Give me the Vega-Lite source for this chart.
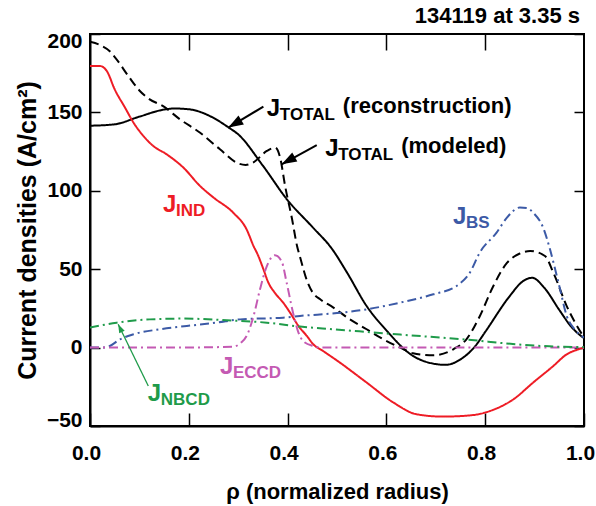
{
  "$schema": "https://vega.github.io/schema/vega-lite/v6.json",
  "width": 494,
  "height": 392,
  "autosize": {"type": "none"},
  "padding": {"left": 90, "top": 34, "right": 12, "bottom": 80},
  "title": {"text": "134119 at 3.35 s", "anchor": "end", "frame": "group", "orient": "top", "fontSize": 22, "fontWeight": "bold", "font": "Liberation Sans", "offset": 2, "dx": -4, "color": "black"},
  "config": {
    "view": {"stroke": "black", "strokeWidth": 2},
    "font": "Liberation Sans",
    "axis": {"grid": false, "tickColor": "black", "domainColor": "black", "domainWidth": 2, "tickWidth": 1.5, "labelColor": "black", "titleColor": "black"}
  },
  "datasets": {
    "curves": [
      {"s": "TR", "rho": 0.0, "J": 141.5}, {"s": "TR", "rho": 0.05, "J": 142.4}, {"s": "TR", "rho": 0.1, "J": 147.3}, {"s": "TR", "rho": 0.15, "J": 151.8}, {"s": "TR", "rho": 0.17, "J": 152.5}, {"s": "TR", "rho": 0.2, "J": 152}, {"s": "TR", "rho": 0.25, "J": 146.5}, {"s": "TR", "rho": 0.28, "J": 140.5}, {"s": "TR", "rho": 0.3, "J": 136}, {"s": "TR", "rho": 0.35, "J": 116}, {"s": "TR", "rho": 0.4, "J": 94}, {"s": "TR", "rho": 0.45, "J": 77}, {"s": "TR", "rho": 0.49, "J": 62.9}, {"s": "TR", "rho": 0.52, "J": 48}, {"s": "TR", "rho": 0.56, "J": 26.5}, {"s": "TR", "rho": 0.6, "J": 11}, {"s": "TR", "rho": 0.65, "J": -4.5}, {"s": "TR", "rho": 0.7, "J": -10.5}, {"s": "TR", "rho": 0.72, "J": -11}, {"s": "TR", "rho": 0.75, "J": -7.5}, {"s": "TR", "rho": 0.78, "J": 1}, {"s": "TR", "rho": 0.8, "J": 10}, {"s": "TR", "rho": 0.85, "J": 33}, {"s": "TR", "rho": 0.875, "J": 42}, {"s": "TR", "rho": 0.895, "J": 44.5}, {"s": "TR", "rho": 0.92, "J": 38}, {"s": "TR", "rho": 0.95, "J": 24}, {"s": "TR", "rho": 0.975, "J": 13}, {"s": "TR", "rho": 1.0, "J": 6},
      {"s": "TM", "rho": 0.0, "J": 195}, {"s": "TM", "rho": 0.02, "J": 193}, {"s": "TM", "rho": 0.04, "J": 189}, {"s": "TM", "rho": 0.051, "J": 185}, {"s": "TM", "rho": 0.078, "J": 173}, {"s": "TM", "rho": 0.1, "J": 164}, {"s": "TM", "rho": 0.12, "J": 158.5}, {"s": "TM", "rho": 0.148, "J": 154}, {"s": "TM", "rho": 0.182, "J": 145.6}, {"s": "TM", "rho": 0.223, "J": 137}, {"s": "TM", "rho": 0.263, "J": 126.5}, {"s": "TM", "rho": 0.3, "J": 117.5}, {"s": "TM", "rho": 0.315, "J": 116.5}, {"s": "TM", "rho": 0.33, "J": 118}, {"s": "TM", "rho": 0.358, "J": 125.4}, {"s": "TM", "rho": 0.375, "J": 127.5}, {"s": "TM", "rho": 0.385, "J": 121}, {"s": "TM", "rho": 0.395, "J": 103}, {"s": "TM", "rho": 0.409, "J": 82}, {"s": "TM", "rho": 0.419, "J": 65}, {"s": "TM", "rho": 0.425, "J": 58}, {"s": "TM", "rho": 0.44, "J": 42}, {"s": "TM", "rho": 0.451, "J": 35}, {"s": "TM", "rho": 0.466, "J": 30.8}, {"s": "TM", "rho": 0.492, "J": 25.7}, {"s": "TM", "rho": 0.526, "J": 18}, {"s": "TM", "rho": 0.56, "J": 11.7}, {"s": "TM", "rho": 0.594, "J": 5.3}, {"s": "TM", "rho": 0.628, "J": 0}, {"s": "TM", "rho": 0.654, "J": -3.6}, {"s": "TM", "rho": 0.695, "J": -4.9}, {"s": "TM", "rho": 0.736, "J": -1}, {"s": "TM", "rho": 0.762, "J": 5.3}, {"s": "TM", "rho": 0.789, "J": 20}, {"s": "TM", "rho": 0.816, "J": 39}, {"s": "TM", "rho": 0.844, "J": 54}, {"s": "TM", "rho": 0.87, "J": 60}, {"s": "TM", "rho": 0.891, "J": 61.6}, {"s": "TM", "rho": 0.921, "J": 58.4}, {"s": "TM", "rho": 0.938, "J": 47.8}, {"s": "TM", "rho": 0.965, "J": 26.5}, {"s": "TM", "rho": 1.0, "J": 6.4},
      {"s": "IND", "rho": 0.0, "J": 179.6}, {"s": "IND", "rho": 0.02, "J": 179.6}, {"s": "IND", "rho": 0.034, "J": 176.4}, {"s": "IND", "rho": 0.05, "J": 164.7}, {"s": "IND", "rho": 0.071, "J": 153}, {"s": "IND", "rho": 0.088, "J": 143.5}, {"s": "IND", "rho": 0.108, "J": 135}, {"s": "IND", "rho": 0.128, "J": 128.6}, {"s": "IND", "rho": 0.155, "J": 123.3}, {"s": "IND", "rho": 0.189, "J": 114.8}, {"s": "IND", "rho": 0.223, "J": 103}, {"s": "IND", "rho": 0.25, "J": 95.7}, {"s": "IND", "rho": 0.29, "J": 86}, {"s": "IND", "rho": 0.317, "J": 75.4}, {"s": "IND", "rho": 0.331, "J": 64.8}, {"s": "IND", "rho": 0.34, "J": 59}, {"s": "IND", "rho": 0.351, "J": 50}, {"s": "IND", "rho": 0.361, "J": 41.5}, {"s": "IND", "rho": 0.374, "J": 35}, {"s": "IND", "rho": 0.391, "J": 28.7}, {"s": "IND", "rho": 0.405, "J": 22.3}, {"s": "IND", "rho": 0.422, "J": 13.8}, {"s": "IND", "rho": 0.439, "J": 7.4}, {"s": "IND", "rho": 0.452, "J": 2.1}, {"s": "IND", "rho": 0.472, "J": -2.2}, {"s": "IND", "rho": 0.506, "J": -9.6}, {"s": "IND", "rho": 0.56, "J": -22.3}, {"s": "IND", "rho": 0.614, "J": -35}, {"s": "IND", "rho": 0.661, "J": -42.5}, {"s": "IND", "rho": 0.715, "J": -44}, {"s": "IND", "rho": 0.776, "J": -43}, {"s": "IND", "rho": 0.81, "J": -40.4}, {"s": "IND", "rho": 0.857, "J": -33}, {"s": "IND", "rho": 0.897, "J": -22.3}, {"s": "IND", "rho": 0.938, "J": -11.7}, {"s": "IND", "rho": 0.965, "J": -4.3}, {"s": "IND", "rho": 0.985, "J": -1.5}, {"s": "IND", "rho": 1.0, "J": 0},
      {"s": "BS", "rho": 0.0, "J": 0}, {"s": "BS", "rho": 0.03, "J": 0}, {"s": "BS", "rho": 0.04, "J": 1}, {"s": "BS", "rho": 0.061, "J": 5.3}, {"s": "BS", "rho": 0.088, "J": 8.5}, {"s": "BS", "rho": 0.142, "J": 11.7}, {"s": "BS", "rho": 0.196, "J": 13.8}, {"s": "BS", "rho": 0.256, "J": 15.9}, {"s": "BS", "rho": 0.304, "J": 18}, {"s": "BS", "rho": 0.391, "J": 19.1}, {"s": "BS", "rho": 0.425, "J": 20.2}, {"s": "BS", "rho": 0.5, "J": 22}, {"s": "BS", "rho": 0.56, "J": 24.4}, {"s": "BS", "rho": 0.628, "J": 28.7}, {"s": "BS", "rho": 0.695, "J": 34}, {"s": "BS", "rho": 0.742, "J": 39.3}, {"s": "BS", "rho": 0.769, "J": 47.8}, {"s": "BS", "rho": 0.789, "J": 60.6}, {"s": "BS", "rho": 0.823, "J": 73.3}, {"s": "BS", "rho": 0.844, "J": 82.9}, {"s": "BS", "rho": 0.87, "J": 89.3}, {"s": "BS", "rho": 0.885, "J": 89}, {"s": "BS", "rho": 0.897, "J": 86.1}, {"s": "BS", "rho": 0.918, "J": 76}, {"s": "BS", "rho": 0.93, "J": 64}, {"s": "BS", "rho": 0.94, "J": 52}, {"s": "BS", "rho": 0.951, "J": 38}, {"s": "BS", "rho": 0.965, "J": 20.2}, {"s": "BS", "rho": 0.98, "J": 12}, {"s": "BS", "rho": 1.0, "J": 6.4},
      {"s": "ECCD", "rho": 0.0, "J": 0}, {"s": "ECCD", "rho": 0.15, "J": 0}, {"s": "ECCD", "rho": 0.29, "J": 0.5}, {"s": "ECCD", "rho": 0.305, "J": 3}, {"s": "ECCD", "rho": 0.317, "J": 7.4}, {"s": "ECCD", "rho": 0.331, "J": 20}, {"s": "ECCD", "rho": 0.344, "J": 37}, {"s": "ECCD", "rho": 0.358, "J": 52}, {"s": "ECCD", "rho": 0.374, "J": 58.9}, {"s": "ECCD", "rho": 0.388, "J": 55}, {"s": "ECCD", "rho": 0.398, "J": 41.5}, {"s": "ECCD", "rho": 0.411, "J": 22.3}, {"s": "ECCD", "rho": 0.422, "J": 9.6}, {"s": "ECCD", "rho": 0.432, "J": 4}, {"s": "ECCD", "rho": 0.452, "J": 1}, {"s": "ECCD", "rho": 0.47, "J": 0}, {"s": "ECCD", "rho": 0.75, "J": 0}, {"s": "ECCD", "rho": 1.0, "J": 0},
      {"s": "NBCD", "rho": 0.0, "J": 12.8}, {"s": "NBCD", "rho": 0.054, "J": 15.9}, {"s": "NBCD", "rho": 0.121, "J": 18}, {"s": "NBCD", "rho": 0.189, "J": 18.5}, {"s": "NBCD", "rho": 0.277, "J": 17.4}, {"s": "NBCD", "rho": 0.358, "J": 15.9}, {"s": "NBCD", "rho": 0.425, "J": 13.4}, {"s": "NBCD", "rho": 0.493, "J": 11.7}, {"s": "NBCD", "rho": 0.628, "J": 8.3}, {"s": "NBCD", "rho": 0.762, "J": 5.1}, {"s": "NBCD", "rho": 0.864, "J": 2.1}, {"s": "NBCD", "rho": 0.93, "J": 0.8}, {"s": "NBCD", "rho": 1.0, "J": 0.3}
    ],
    "labels": [
      {"s": "TR", "rho": 0.358, "J": 147.5, "main": "J", "sub": "TOTAL", "tail": "(reconstruction)"},
      {"s": "TM", "rho": 0.476, "J": 122.0, "main": "J", "sub": "TOTAL", "tail": "(modeled)"},
      {"s": "IND", "rho": 0.148, "J": 86.3, "main": "J", "sub": "IND", "tail": ""},
      {"s": "BS", "rho": 0.735, "J": 78.6, "main": "J", "sub": "BS", "tail": ""},
      {"s": "ECCD", "rho": 0.263, "J": -17.0, "main": "J", "sub": "ECCD", "tail": ""},
      {"s": "NBCD", "rho": 0.117, "J": -34.3, "main": "J", "sub": "NBCD", "tail": ""}
    ],
    "arrows": [
      {"id": "a1", "s": "TR", "rho": 0.351, "J": 153.7, "rho2": 0.28, "J2": 140.3},
      {"id": "a2", "s": "TM", "rho": 0.459, "J": 129.2, "rho2": 0.388, "J2": 116.9},
      {"id": "a3", "s": "NBCD", "rho": 0.118, "J": -24.5, "rho2": 0.057, "J2": 14.9}
    ]
  },
  "layer": [
    {
      "data": {"name": "curves"},
      "mark": {"type": "line", "interpolate": "monotone", "strokeWidth": 2, "clip": true},
      "encoding": {
        "x": {"field": "rho", "type": "quantitative", "scale": {"domain": [0, 1], "nice": false, "zero": false},
          "axis": {"orient": "bottom", "values": [0, 0.2, 0.4, 0.6, 0.8, 1.0], "format": ".1f", "tickSize": -13, "labelFontSize": 21, "labelFontWeight": "bold", "labelPadding": 29, "labelOffset": -4, "labelFlush": false, "title": "ρ (normalized radius)", "titleFontSize": 22, "titleFontWeight": "bold", "titlePadding": 18}},
        "y": {"field": "J", "type": "quantitative", "scale": {"domain": [-50, 200], "nice": false, "zero": false},
          "axis": {"orient": "left", "values": [-50, 0, 50, 100, 150, 200], "tickSize": -10, "labelFontSize": 21, "labelFontWeight": "bold", "labelPadding": 18, "labelFlush": true, "labelFlushOffset": 4, "title": "Current densities (A/cm²)", "titleFontSize": 25, "titleFontWeight": "bold", "titlePadding": 6}},
        "color": {"field": "s", "type": "nominal", "legend": null,
          "scale": {"domain": ["TR", "TM", "IND", "BS", "ECCD", "NBCD"], "range": ["#000000", "#000000", "#ee1c25", "#3c5aa6", "#c45ab3", "#1f9b4a"]}},
        "strokeDash": {"field": "s", "type": "nominal", "legend": null,
          "scale": {"domain": ["TR", "TM", "IND", "BS", "ECCD", "NBCD"], "range": [[1, 0], [9, 5], [1, 0], [9, 4, 2, 4], [9, 4, 2, 4], [9, 4, 2, 4]]}},
        "detail": {"field": "s"}
      }
    },
    {
      "data": {"name": "labels"},
      "mark": {"type": "text", "align": "left", "baseline": "alphabetic", "fontSize": 24, "fontWeight": "bold"},
      "encoding": {
        "x": {"field": "rho", "type": "quantitative", "axis": {"orient": "top", "values": [0.2, 0.4, 0.6, 0.8], "labels": false, "tickSize": -16, "domain": false, "title": null}},
        "y": {"field": "J", "type": "quantitative", "axis": {"orient": "right", "values": [-50, 0, 50, 100, 150, 200], "labels": false, "tickSize": -10, "domain": false, "title": null}},
        "text": {"field": "main"},
        "color": {"field": "s", "type": "nominal", "legend": null}
      }
    },
    {
      "data": {"name": "labels"},
      "mark": {"type": "text", "align": "left", "baseline": "alphabetic", "fontSize": 17, "fontWeight": "bold", "dx": 13, "dy": 4},
      "encoding": {
        "x": {"field": "rho", "type": "quantitative", "axis": null},
        "y": {"field": "J", "type": "quantitative", "axis": null},
        "text": {"field": "sub"},
        "color": {"field": "s", "type": "nominal", "legend": null}
      }
    },
    {
      "data": {"name": "labels"},
      "mark": {"type": "text", "align": "left", "baseline": "alphabetic", "fontSize": 22, "fontWeight": "bold", "dx": 76, "dy": -3},
      "encoding": {
        "x": {"field": "rho", "type": "quantitative", "axis": null},
        "y": {"field": "J", "type": "quantitative", "axis": null},
        "text": {"field": "tail"},
        "color": {"field": "s", "type": "nominal", "legend": null}
      }
    },
    {
      "data": {"name": "arrows"},
      "transform": [{"filter": "datum.id !== 'a3'"}],
      "mark": {"type": "rule", "strokeWidth": 2},
      "encoding": {
        "x": {"field": "rho", "type": "quantitative", "axis": null},
        "y": {"field": "J", "type": "quantitative", "axis": null},
        "x2": {"field": "rho2"},
        "y2": {"field": "J2"},
        "color": {"field": "s", "type": "nominal", "legend": null}
      }
    },
    {
      "data": {"name": "arrows"},
      "transform": [{"filter": "datum.id === 'a3'"}],
      "mark": {"type": "rule", "strokeWidth": 1.3},
      "encoding": {
        "x": {"field": "rho", "type": "quantitative", "axis": null},
        "y": {"field": "J", "type": "quantitative", "axis": null},
        "x2": {"field": "rho2"},
        "y2": {"field": "J2"},
        "color": {"field": "s", "type": "nominal", "legend": null}
      }
    },
    {
      "data": {"name": "arrows"},
      "transform": [{"filter": "datum.id === 'a1'"}],
      "mark": {"type": "point", "shape": "M0,0L-0.35,1L0.35,1Z", "filled": true, "opacity": 1, "size": 900, "angle": 239},
      "encoding": {
        "x": {"field": "rho2", "type": "quantitative", "axis": null},
        "y": {"field": "J2", "type": "quantitative", "axis": null},
        "color": {"field": "s", "type": "nominal", "legend": null}
      }
    },
    {
      "data": {"name": "arrows"},
      "transform": [{"filter": "datum.id === 'a2'"}],
      "mark": {"type": "point", "shape": "M0,0L-0.35,1L0.35,1Z", "filled": true, "opacity": 1, "size": 900, "angle": 241},
      "encoding": {
        "x": {"field": "rho2", "type": "quantitative", "axis": null},
        "y": {"field": "J2", "type": "quantitative", "axis": null},
        "color": {"field": "s", "type": "nominal", "legend": null}
      }
    },
    {
      "data": {"name": "arrows"},
      "transform": [{"filter": "datum.id === 'a3'"}],
      "mark": {"type": "point", "shape": "M0,0L-0.35,1L0.35,1Z", "filled": true, "opacity": 1, "size": 300, "angle": 334},
      "encoding": {
        "x": {"field": "rho2", "type": "quantitative", "axis": null},
        "y": {"field": "J2", "type": "quantitative", "axis": null},
        "color": {"field": "s", "type": "nominal", "legend": null}
      }
    }
  ],
  "resolve": {"axis": {"x": "independent", "y": "independent"}}
}
